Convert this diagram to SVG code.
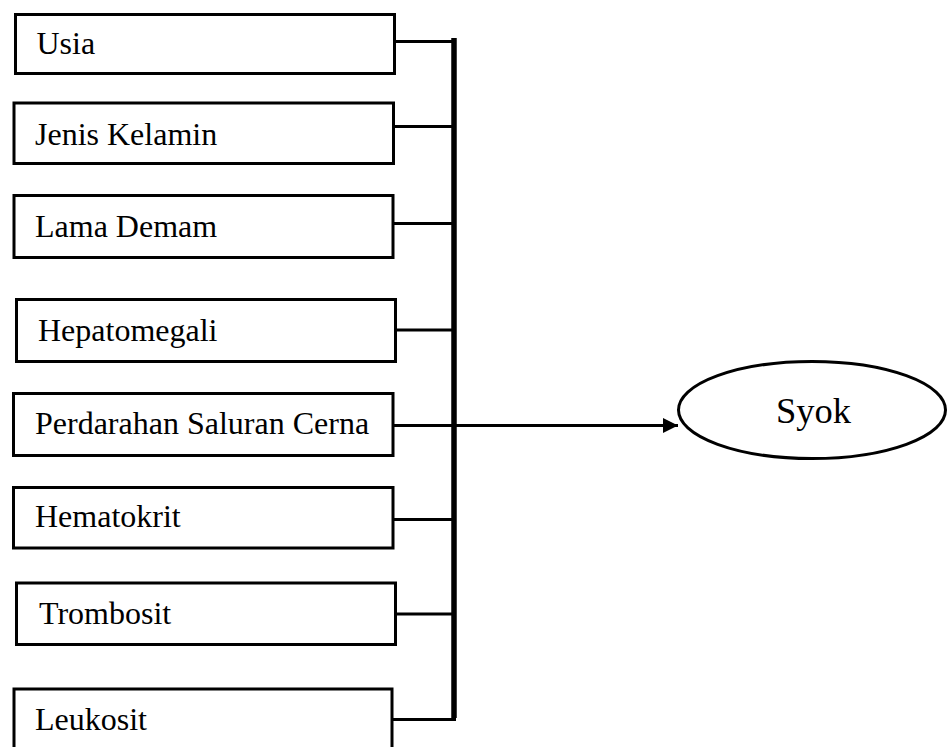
<svg xmlns="http://www.w3.org/2000/svg" width="948" height="747" viewBox="0 0 948 747">
<style>
.box{fill:#fff;stroke:#000;stroke-width:3}
.lbl{font-family:"Liberation Serif","Times New Roman",serif;font-size:32px;fill:#000}
.con{stroke:#000;stroke-width:3;fill:none}
.bus{stroke:#000;stroke-width:5.5;fill:none}
</style>
<defs>
<marker id="ah" markerUnits="userSpaceOnUse" markerWidth="16" markerHeight="16" refX="15" refY="8" orient="auto">
<path d="M0,0.5 L15,8 L0,15.5 Z" fill="#000"/>
</marker>
</defs>
<rect width="948" height="747" fill="#fff"/>
<g id="connectors">
<line class="bus" x1="454" y1="38" x2="454" y2="718"/>
<line class="con" x1="396" y1="41.5" x2="456" y2="41.5"/>
<line class="con" x1="395" y1="126.5" x2="456" y2="126.5"/>
<line class="con" x1="394" y1="223.5" x2="456" y2="223.5"/>
<line class="con" x1="396" y1="330" x2="456" y2="330"/>
<line class="con" x1="394" y1="519.5" x2="456" y2="519.5"/>
<line class="con" x1="396" y1="614" x2="456" y2="614"/>
<line class="con" x1="393" y1="719.5" x2="456" y2="719.5"/>
<line class="con" x1="394" y1="425.5" x2="678" y2="425.5" stroke-width="4" marker-end="url(#ah)"/>
</g>
<g id="usia"><rect class="box" x="15.5" y="14.5" width="379" height="59"/><text class="lbl" x="36.5" y="54">Usia</text></g>
<g id="jenis-kelamin"><rect class="box" x="14" y="103" width="379.5" height="60.5"/><text class="lbl" x="35" y="145">Jenis Kelamin</text></g>
<g id="lama-demam"><rect class="box" x="14" y="195.5" width="379" height="62"/><text class="lbl" x="35" y="237">Lama Demam</text></g>
<g id="hepatomegali"><rect class="box" x="16.5" y="299.5" width="379" height="62"/><text class="lbl" x="38" y="341">Hepatomegali</text></g>
<g id="perdarahan"><rect class="box" x="13.5" y="393.5" width="379.5" height="62"/><text class="lbl" x="35" y="434">Perdarahan Saluran Cerna</text></g>
<g id="hematokrit"><rect class="box" x="13.5" y="487.5" width="379.5" height="60.5"/><text class="lbl" x="35" y="526.5">Hematokrit</text></g>
<g id="trombosit"><rect class="box" x="16.5" y="583" width="379" height="61.5"/><text class="lbl" x="39" y="624">Trombosit</text></g>
<g id="leukosit"><rect class="box" x="14" y="689" width="378" height="80"/><text class="lbl" x="35" y="730">Leukosit</text></g>
<g id="syok"><ellipse cx="812" cy="410" rx="133.5" ry="48.5" fill="#fff" stroke="#000" stroke-width="3"/><text x="776" y="423" font-family="Liberation Serif, Times New Roman, serif" font-size="36.5" fill="#000">Syok</text></g>
</svg>
